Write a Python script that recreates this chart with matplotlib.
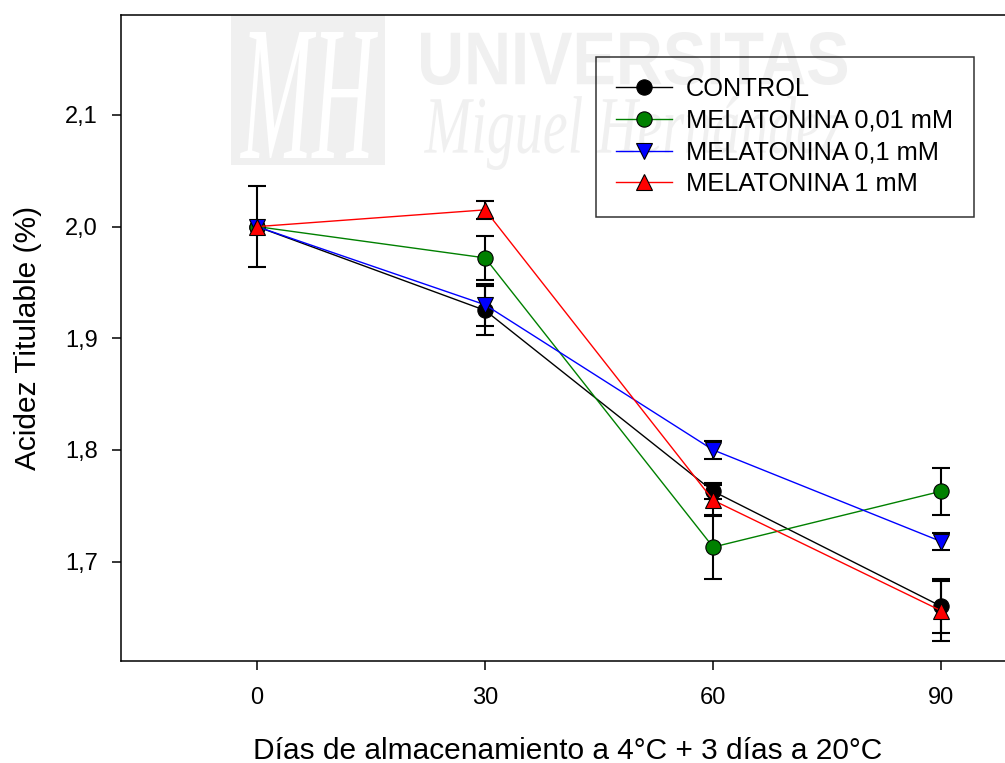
import matplotlib
matplotlib.use("Agg")
import matplotlib.pyplot as plt
from matplotlib.textpath import TextPath
from matplotlib.patches import PathPatch, Rectangle
from matplotlib.font_manager import FontProperties
from matplotlib.transforms import Affine2D

# ---- data ----
days = [0, 30, 60, 90]
series_names = ["CONTROL", "MELATONINA 0,01 mM", "MELATONINA 0,1 mM", "MELATONINA 1 mM"]
control = [2.000, 1.925, 1.763, 1.660]
control_err = [0.036, 0.022, 0.007, 0.024]
mel_001 = [2.000, 1.972, 1.713, 1.763]
mel_001_err = [0.0, 0.020, 0.029, 0.021]
mel_01 = [2.000, 1.930, 1.800, 1.718]
mel_01_err = [0.0, 0.019, 0.008, 0.008]
mel_1 = [2.000, 2.015, 1.755, 1.656]
mel_1_err = [0.0, 0.008, 0.014, 0.027]
x_ticks = [0, 30, 60, 90]
y_ticks = [1.7, 1.8, 1.9, 2.0, 2.1]
y_tick_labels = ["1,7", "1,8", "1,9", "2,0", "2,1"]
x_label = "Días de almacenamiento a 4°C + 3 días a 20°C"
y_label = "Acidez Titulable (%)"

plt.rcParams['font.family'] = ['Liberation Sans', 'DejaVu Sans']

W, H = 1005, 763
fig = plt.figure(figsize=(W / 100, H / 100), dpi=100)
fig.patch.set_facecolor('white')


# ---- faint university watermark behind the plot ----
def px_transform(box, path):
    x0, y0, x1, y1 = box
    ext = path.get_extents()
    sx = (x1 - x0) / ext.width
    sy = (y1 - y0) / ext.height
    return (Affine2D().translate(-ext.x0, -ext.y0).scale(sx, sy)
            .translate(x0, H - y1).scale(1 / 100) + fig.dpi_scale_trans)


def fitted_text(s, prop, box, color, z):
    tp = TextPath((0, 0), s, size=100, prop=prop)
    fig.add_artist(PathPatch(tp, transform=px_transform(box, tp),
                             fc=color, ec='none', zorder=z))


wm = '#f0f0f0'
logo = Rectangle((231 / 100, (H - 165) / 100), 154 / 100, 150 / 100,
                 transform=fig.dpi_scale_trans, fc=wm, ec='none', zorder=-3)
fig.add_artist(logo)
fitted_text("MH", FontProperties(family='Liberation Serif', style='italic'),
            (240, 32, 378, 158), 'white', -2)
fitted_text("UNIVERSITAS", FontProperties(family='Liberation Sans', weight='bold'),
            (421, 32, 847, 85), wm, -3)
fitted_text("Miguel Hernández", FontProperties(family='Liberation Serif', style='italic'),
            (424, 96, 842, 170), wm, -3)

# ---- axes ----
ax = fig.add_axes([121 / W, (H - 661) / H, (W - 121) / W, (661 - 15) / H])
ax.set_facecolor('none')
ax.set_xlim(-17.9, 98.4)
ax.set_ylim(1.611, 2.1895)

series = [
    (control, control_err, 'black', 'o'),
    (mel_001, mel_001_err, '#008000', 'o'),
    (mel_01, mel_01_err, '#0000ff', 'v'),
    (mel_1, mel_1_err, '#ff0000', '^'),
]

# error bars (only where a deviation exists)
for vals, errs, color, marker in series:
    xs = [d for d, e in zip(days, errs) if e > 0]
    ys = [v for v, e in zip(vals, errs) if e > 0]
    es = [e for e in errs if e > 0]
    ax.errorbar(xs, ys, yerr=es, fmt='none', ecolor='black', elinewidth=1.5,
                capsize=6.8, capthick=1.5, zorder=2)

for i, ((vals, errs, color, marker), name) in enumerate(zip(series, series_names)):
    ax.plot(days, vals, color=color, lw=1.0, marker=marker, ms=11,
            mfc=color, mec='black', mew=0.8, label=name, zorder=3 + i)

ax.set_xticks(x_ticks)
ax.set_yticks(y_ticks)
ax.set_yticklabels(y_tick_labels)
ax.tick_params(direction='out', length=6.5, width=1.1, labelsize=17, colors='black')
ax.tick_params(axis='y', pad=10)
ax.tick_params(axis='x', pad=12)
ax.spines['right'].set_visible(False)
for s in ('left', 'bottom', 'top'):
    ax.spines[s].set_linewidth(1.1)

leg = ax.legend(loc='upper left',
                bbox_to_anchor=((596 - 121) / 884, (661 - 57) / 646),
                fontsize=18.3, frameon=True, fancybox=False, edgecolor='black',
                facecolor='none', borderaxespad=0, borderpad=0.8,
                labelspacing=0.3, handlelength=2.2, handletextpad=0.55)
leg.get_frame().set_linewidth(1.1)

fig.text(568 / W, 1 - 759 / H, x_label, ha='center', va='baseline', fontsize=21.5)
fig.text(36 / W, 1 - 338 / H, y_label, rotation=90, rotation_mode='anchor',
         ha='center', va='baseline', fontsize=21.5)

fig.savefig('out.png', dpi=100)
